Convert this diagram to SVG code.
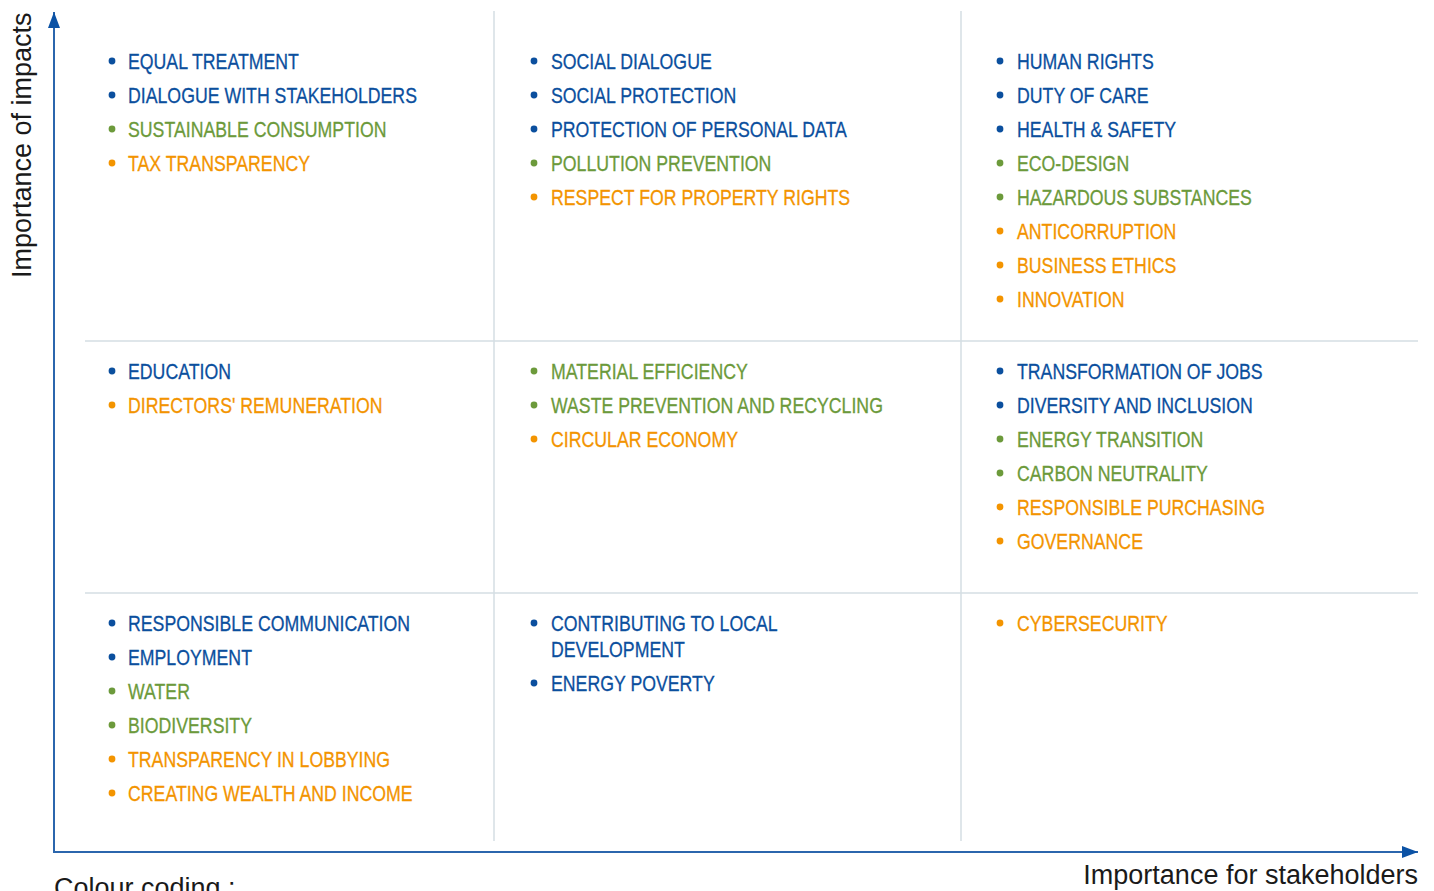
<svg xmlns="http://www.w3.org/2000/svg" width="1434" height="891" viewBox="0 0 1434 891">
  <style>
    .grid { stroke: #d4dee3; stroke-width: 1.5; fill: none; }
    .axis { stroke: #2b66ad; stroke-width: 2; fill: none; }
    .item { font-family: "Liberation Sans", Arial, sans-serif; font-size: 22px; stroke-width: 0.3; }
    .b { fill: #0b4f9e; stroke: #0b4f9e; }
    .g { fill: #6c9a3b; stroke: #6c9a3b; }
    .o { fill: #f39400; stroke: #f39400; }
    circle.b, circle.g, circle.o { stroke: none; }
    .label { font-family: "Liberation Sans", Arial, sans-serif; font-size: 27px; fill: #1a1a1a; }
  </style>
  <defs>
    <marker id="arrow" viewBox="0 0 16 12" refX="16" refY="6" markerWidth="16" markerHeight="12" markerUnits="userSpaceOnUse" orient="auto">
      <path d="M0,0 L16,6 L0,12 Z" fill="#0b52a5"/>
    </marker>
  </defs>
  <rect width="1434" height="891" fill="#ffffff"/>

  <!-- matrix grid -->
  <g id="grid">
    <line class="grid" x1="494" y1="11" x2="494" y2="841"/>
    <line class="grid" x1="961" y1="11" x2="961" y2="841"/>
    <line class="grid" x1="85" y1="341" x2="1418" y2="341"/>
    <line class="grid" x1="85" y1="593" x2="1418" y2="593"/>
  </g>

  <!-- axes -->
  <g id="axes">
    <line class="axis" x1="54" y1="852" x2="54" y2="12" marker-end="url(#arrow)"/>
    <line class="axis" x1="53" y1="852" x2="1418" y2="852" marker-end="url(#arrow)"/>
    <text class="label" transform="translate(31,278) rotate(-90)">Importance of impacts</text>
    <text class="label" x="1418" y="884" text-anchor="end">Importance for stakeholders</text>
    <text class="label" x="54" y="897">Colour coding :</text>
  </g>

  <!-- top row -->
  <g id="cell-top-left" class="item">
    <circle class="b" cx="112" cy="61" r="3.4"/>
    <circle class="b" cx="112" cy="95" r="3.4"/>
    <circle class="g" cx="112" cy="129" r="3.4"/>
    <circle class="o" cx="112" cy="163" r="3.4"/>
    <g transform="translate(128 0) scale(0.805 1)">
      <text class="b" y="69.5">EQUAL TREATMENT</text>
      <text class="b" y="103.5">DIALOGUE WITH STAKEHOLDERS</text>
      <text class="g" y="137.5">SUSTAINABLE CONSUMPTION</text>
      <text class="o" y="171.5">TAX TRANSPARENCY</text>
    </g>
  </g>
  <g id="cell-top-middle" class="item">
    <circle class="b" cx="534" cy="61" r="3.4"/>
    <circle class="b" cx="534" cy="95" r="3.4"/>
    <circle class="b" cx="534" cy="129" r="3.4"/>
    <circle class="g" cx="534" cy="163" r="3.4"/>
    <circle class="o" cx="534" cy="197" r="3.4"/>
    <g transform="translate(551 0) scale(0.805 1)">
      <text class="b" y="69.5">SOCIAL DIALOGUE</text>
      <text class="b" y="103.5">SOCIAL PROTECTION</text>
      <text class="b" y="137.5">PROTECTION OF PERSONAL DATA</text>
      <text class="g" y="171.5">POLLUTION PREVENTION</text>
      <text class="o" y="205.5">RESPECT FOR PROPERTY RIGHTS</text>
    </g>
  </g>
  <g id="cell-top-right" class="item">
    <circle class="b" cx="1000" cy="61" r="3.4"/>
    <circle class="b" cx="1000" cy="95" r="3.4"/>
    <circle class="b" cx="1000" cy="129" r="3.4"/>
    <circle class="g" cx="1000" cy="163" r="3.4"/>
    <circle class="g" cx="1000" cy="197" r="3.4"/>
    <circle class="o" cx="1000" cy="231" r="3.4"/>
    <circle class="o" cx="1000" cy="265" r="3.4"/>
    <circle class="o" cx="1000" cy="299" r="3.4"/>
    <g transform="translate(1017 0) scale(0.805 1)">
      <text class="b" y="69.5">HUMAN RIGHTS</text>
      <text class="b" y="103.5">DUTY OF CARE</text>
      <text class="b" y="137.5">HEALTH &amp; SAFETY</text>
      <text class="g" y="171.5">ECO-DESIGN</text>
      <text class="g" y="205.5">HAZARDOUS SUBSTANCES</text>
      <text class="o" y="239.5">ANTICORRUPTION</text>
      <text class="o" y="273.5">BUSINESS ETHICS</text>
      <text class="o" y="307.5">INNOVATION</text>
    </g>
  </g>

  <!-- middle row -->
  <g id="cell-middle-left" class="item">
    <circle class="b" cx="112" cy="371" r="3.4"/>
    <circle class="o" cx="112" cy="405" r="3.4"/>
    <g transform="translate(128 0) scale(0.805 1)">
      <text class="b" y="379.5">EDUCATION</text>
      <text class="o" y="413.5">DIRECTORS' REMUNERATION</text>
    </g>
  </g>
  <g id="cell-middle-middle" class="item">
    <circle class="g" cx="534" cy="371" r="3.4"/>
    <circle class="g" cx="534" cy="405" r="3.4"/>
    <circle class="o" cx="534" cy="439" r="3.4"/>
    <g transform="translate(551 0) scale(0.805 1)">
      <text class="g" y="379.5">MATERIAL EFFICIENCY</text>
      <text class="g" y="413.5">WASTE PREVENTION AND RECYCLING</text>
      <text class="o" y="447.5">CIRCULAR ECONOMY</text>
    </g>
  </g>
  <g id="cell-middle-right" class="item">
    <circle class="b" cx="1000" cy="371" r="3.4"/>
    <circle class="b" cx="1000" cy="405" r="3.4"/>
    <circle class="g" cx="1000" cy="439" r="3.4"/>
    <circle class="g" cx="1000" cy="473" r="3.4"/>
    <circle class="o" cx="1000" cy="507" r="3.4"/>
    <circle class="o" cx="1000" cy="541" r="3.4"/>
    <g transform="translate(1017 0) scale(0.805 1)">
      <text class="b" y="379.5">TRANSFORMATION OF JOBS</text>
      <text class="b" y="413.5">DIVERSITY AND INCLUSION</text>
      <text class="g" y="447.5">ENERGY TRANSITION</text>
      <text class="g" y="481.5">CARBON NEUTRALITY</text>
      <text class="o" y="515.5">RESPONSIBLE PURCHASING</text>
      <text class="o" y="549.5">GOVERNANCE</text>
    </g>
  </g>

  <!-- bottom row -->
  <g id="cell-bottom-left" class="item">
    <circle class="b" cx="112" cy="623" r="3.4"/>
    <circle class="b" cx="112" cy="657" r="3.4"/>
    <circle class="g" cx="112" cy="691" r="3.4"/>
    <circle class="g" cx="112" cy="725" r="3.4"/>
    <circle class="o" cx="112" cy="759" r="3.4"/>
    <circle class="o" cx="112" cy="793" r="3.4"/>
    <g transform="translate(128 0) scale(0.805 1)">
      <text class="b" y="631.5">RESPONSIBLE COMMUNICATION</text>
      <text class="b" y="665.5">EMPLOYMENT</text>
      <text class="g" y="699.5">WATER</text>
      <text class="g" y="733.5">BIODIVERSITY</text>
      <text class="o" y="767.5">TRANSPARENCY IN LOBBYING</text>
      <text class="o" y="801.5">CREATING WEALTH AND INCOME</text>
    </g>
  </g>
  <g id="cell-bottom-middle" class="item">
    <circle class="b" cx="534" cy="623" r="3.4"/>
    <circle class="b" cx="534" cy="683" r="3.4"/>
    <g transform="translate(551 0) scale(0.805 1)">
      <text class="b" y="631">CONTRIBUTING TO LOCAL</text>
      <text class="b" y="657">DEVELOPMENT</text>
      <text class="b" y="691">ENERGY POVERTY</text>
    </g>
  </g>
  <g id="cell-bottom-right" class="item">
    <circle class="o" cx="1000" cy="623" r="3.4"/>
    <g transform="translate(1017 0) scale(0.805 1)">
      <text class="o" y="631.5">CYBERSECURITY</text>
    </g>
  </g>
</svg>
